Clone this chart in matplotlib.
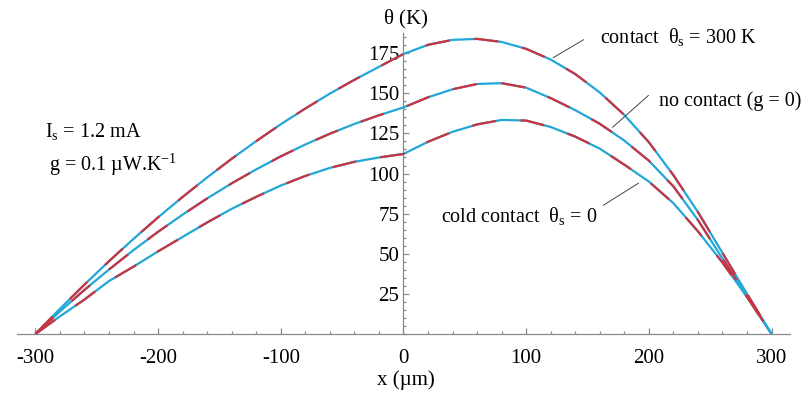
import numpy as np
import matplotlib
matplotlib.use("Agg")
import matplotlib.pyplot as plt
from matplotlib.ticker import MultipleLocator

plt.rcParams['font.family'] = ['Liberation Serif', 'DejaVu Serif']
plt.rcParams['mathtext.fontset'] = 'custom'
plt.rcParams['mathtext.rm'] = 'Liberation Serif'
plt.rcParams['mathtext.it'] = 'Liberation Serif:italic'

# positions along the wire (um)
x_um = [-300, -280, -260, -240, -220, -200, -180, -160, -140, -120, -100, -80,
        -60, -40, -20, 0, 20, 40, 60, 80, 100, 120, 140, 160, 180, 200, 220,
        240, 260, 280, 300]

# temperature rise theta (K)
theta_contact = [0, 15.7, 30.8, 45.4, 59.3, 72.7, 85.4, 97.6, 109.2, 120.2, 130.7,
                 140.5, 149.8, 158.4, 166.5, 174.5, 180.2, 183.3, 183.9, 182.0,
                 177.7, 171.0, 162.0, 150.5, 136.5, 119.5, 99, 76, 50.5, 25, 0]
theta_nocontact = [0, 14.1, 27.5, 40.2, 52.3, 63.7, 74.4, 84.5, 93.9, 102.6, 110.7,
                   118.1, 124.8, 130.9, 136.3, 141.2, 147.5, 152.5, 155.8, 156.3,
                   153.5, 147, 139.5, 131, 120.5, 108, 92, 71, 47, 23.5, 0]
theta_cold = [0, 11, 21.5, 33, 42, 51.5, 60.5, 69.5, 78, 85.5, 92.5, 98.5, 103.5,
              107.3, 110, 112.2, 119.8, 126, 130.6, 133.4, 133, 129, 123, 115.5,
              105.5, 95, 81.5, 64, 44.5, 23, 0]

xticks = [-300, -200, -100, 0, 100, 200, 300]
yticks = [25, 50, 75, 100, 125, 150, 175]

red = '#cc3340'
cyan = '#22a7d6'
gray = '#8a8a8a'

fig = plt.figure(figsize=(8.06, 3.98), dpi=100)
ax = fig.add_axes([0.0211, 0.1608, 0.9590, 0.7560])

for th in [theta_contact, theta_nocontact, theta_cold]:
    ax.plot(x_um, th, color=cyan, lw=1.6, solid_capstyle='butt', zorder=3)
    ax.plot(x_um, th, color=red, lw=1.6, dashes=(11, 11), dash_capstyle='butt', zorder=4)

ax.set_xlim(-315, 315)
ax.set_ylim(0, 187.5)

for s in ['top', 'right']:
    ax.spines[s].set_visible(False)
ax.spines['left'].set_position(('data', 0))
ax.spines['bottom'].set_position(('data', 0))
for s in ['left', 'bottom']:
    ax.spines[s].set_color(gray)
    ax.spines[s].set_linewidth(0.9)

ax.set_xticks(xticks)
ax.set_xticklabels([str(v) for v in xticks])
ax.set_yticks(yticks)
ax.set_yticklabels([str(v) for v in yticks])
ax.xaxis.set_minor_locator(MultipleLocator(20))
ax.yaxis.set_minor_locator(MultipleLocator(5))
ax.tick_params(which='both', direction='in', color=gray, width=0.9, labelsize=15)
ax.tick_params(which='major', length=4.5)
ax.tick_params(which='minor', length=2.4)
ax.tick_params(axis='x', which='major', pad=11)
ax.tick_params(axis='y', which='major', pad=3)

ax.text(1.6, 192.9, r'$\mathregular{\theta}$ (K)', ha='center', va='baseline',
        fontsize=15, clip_on=False)
ax.text(1.6, -31.7, 'x (µm)', ha='center', va='baseline', fontsize=15, clip_on=False)

ax.text(-291.8, 122.6, r'I$_\mathregular{s}$ = 1.2 mA', ha='left', va='baseline', fontsize=14.5)
ax.text(-288.6, 101.6, r'g = 0.1 µW.K$^\mathregular{-1}$', ha='left', va='baseline', fontsize=14.5)

ax.text(159.8, 181.3, r'contact  θ$_\mathregular{s}$ = 300 K', ha='left', va='baseline',
        fontsize=14.5, clip_on=False)
ax.text(207.9, 141.9, 'no contact (g = 0)', ha='left', va='baseline', fontsize=14.5,
        clip_on=False)
ax.text(30.2, 69.9, r'cold contact  θ$_\mathregular{s}$ = 0', ha='left', va='baseline',
        fontsize=14.5)

lead = dict(arrowstyle='-', color='#444444', lw=0.7, shrinkA=0, shrinkB=0)
ax.annotate('', xy=(122.0, 172.2), xytext=(146.8, 183.4), arrowprops=lead)
ax.annotate('', xy=(170.4, 128.8), xytext=(199.7, 148.7), arrowprops=lead)
ax.annotate('', xy=(191.6, 94.0), xytext=(163.0, 80.3), arrowprops=lead)

fig.savefig('out.png', dpi=100)
